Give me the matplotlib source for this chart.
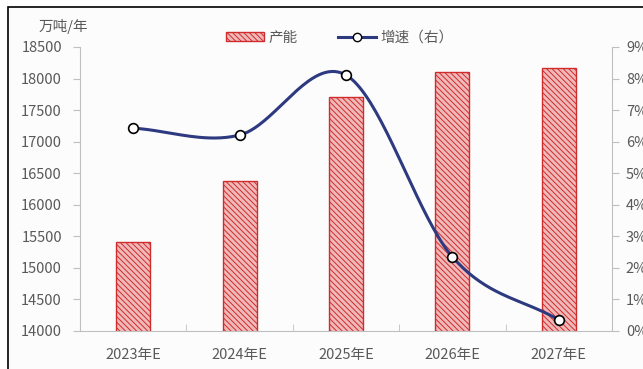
import numpy as np
import matplotlib.pyplot as plt
from matplotlib.patches import Rectangle
from matplotlib.lines import Line2D

plt.rcParams['font.family'] = ['Noto Sans CJK SC', 'DejaVu Sans']
plt.rcParams['hatch.linewidth'] = 0.7

# data
years = ['2023年E', '2024年E', '2025年E', '2026年E', '2027年E']
capacity = [15410, 16370, 17700, 18110, 18170]
growth = [6.43, 6.21, 8.11, 2.35, 0.35]

grey = '#595959'
axis_grey = '#bfbfbf'


def catmull_rom(x, y, n=40):
    # smooth curve through points, roughly what Excel draws
    x = np.asarray(x, float)
    y = np.asarray(y, float)
    px = np.concatenate([[2 * x[0] - x[1]], x, [2 * x[-1] - x[-2]]])
    py = np.concatenate([[2 * y[0] - y[1]], y, [2 * y[-1] - y[-2]]])
    xs, ys = [], []
    for i in range(1, len(px) - 2):
        t = np.linspace(0, 1, n)
        for p, out in ((px, xs), (py, ys)):
            p0, p1, p2, p3 = p[i - 1], p[i], p[i + 1], p[i + 2]
            out.append(0.5 * (2 * p1 + (-p0 + p2) * t
                              + (2 * p0 - 5 * p1 + 4 * p2 - p3) * t ** 2
                              + (-p0 + 3 * p1 - 3 * p2 + p3) * t ** 3))
    return np.concatenate(xs), np.concatenate(ys)


fig = plt.figure(figsize=(6.43, 3.69), dpi=100, facecolor='white')
fig.patches.append(Rectangle((8 / 643, -0.1), 1.2, (369 - 7) / 369 + 0.1,
                             transform=fig.transFigure, facecolor='#fcfcfc',
                             edgecolor='black', linewidth=1.2, zorder=-1))

ax = fig.add_axes([80 / 643, 1 - 331 / 369, 532 / 643, 284 / 369])
ax.set_facecolor('none')
x = np.arange(len(years))

ax.bar(x, capacity, width=0.32, color='#f0b9b9', edgecolor='#d02c2c',
       hatch='\\\\\\\\\\\\', linewidth=1.0, zorder=2)

ax.set_xlim(-0.5, len(years) - 0.5)
ax.set_ylim(14000, 18500)
ax.set_yticks(np.arange(14000, 18501, 500))
ax.set_xticks(x)
ax.set_xticklabels(years)
ax.set_xticks(np.arange(-0.5, len(years), 1), minor=True)
ax.tick_params(axis='x', which='major', length=0, pad=12, labelsize=10.5, labelcolor=grey)
ax.tick_params(axis='x', which='minor', direction='in', length=5, color=axis_grey)
ax.tick_params(axis='y', direction='out', length=5, color=axis_grey, labelsize=10.5,
               labelcolor=grey, pad=8)
for s in ['top', 'right']:
    ax.spines[s].set_visible(False)
for s in ['left', 'bottom']:
    ax.spines[s].set_color(axis_grey)
fig.text(63 / 643, 1 - 27 / 369, '万吨/年', ha='center', va='center',
         fontsize=10.5, color=grey)

ax2 = ax.twinx()
ax2.set_ylim(0, 9)
ax2.set_yticks(np.arange(0, 10, 1))
ax2.set_yticklabels([f'{v}%' for v in range(10)])
ax2.tick_params(axis='y', direction='out', length=5, color=axis_grey, labelsize=10.5,
                labelcolor=grey, pad=5)
for s in ['top', 'left', 'bottom']:
    ax2.spines[s].set_visible(False)
ax2.spines['right'].set_color(axis_grey)

sx, sy = catmull_rom(x, growth)
ax2.plot(sx, sy, color='#2e3a80', linewidth=2.2, zorder=3)
ax2.plot(x, growth, linestyle='none', marker='o', markersize=7,
         markerfacecolor='white', markeredgecolor='black', markeredgewidth=1.2, zorder=4)

handles = [Rectangle((0, 0), 1, 1, facecolor='#f0b9b9', edgecolor='#d02c2c',
                     hatch='\\\\\\\\\\\\', linewidth=1.0),
           Line2D([], [], color='#2e3a80', linewidth=2.2, marker='o', markersize=6,
                  markerfacecolor='white', markeredgecolor='black')]
fig.legend(handles, ['产能', '增速（右）'], loc='center', ncol=2,
           bbox_to_anchor=(340 / 643, 1 - 38 / 369), frameon=False, fontsize=10.5,
           labelcolor=grey, handlelength=2.6, handleheight=0.6, handletextpad=0.3,
           columnspacing=2.8)

fig.savefig('out.png', dpi=100)
